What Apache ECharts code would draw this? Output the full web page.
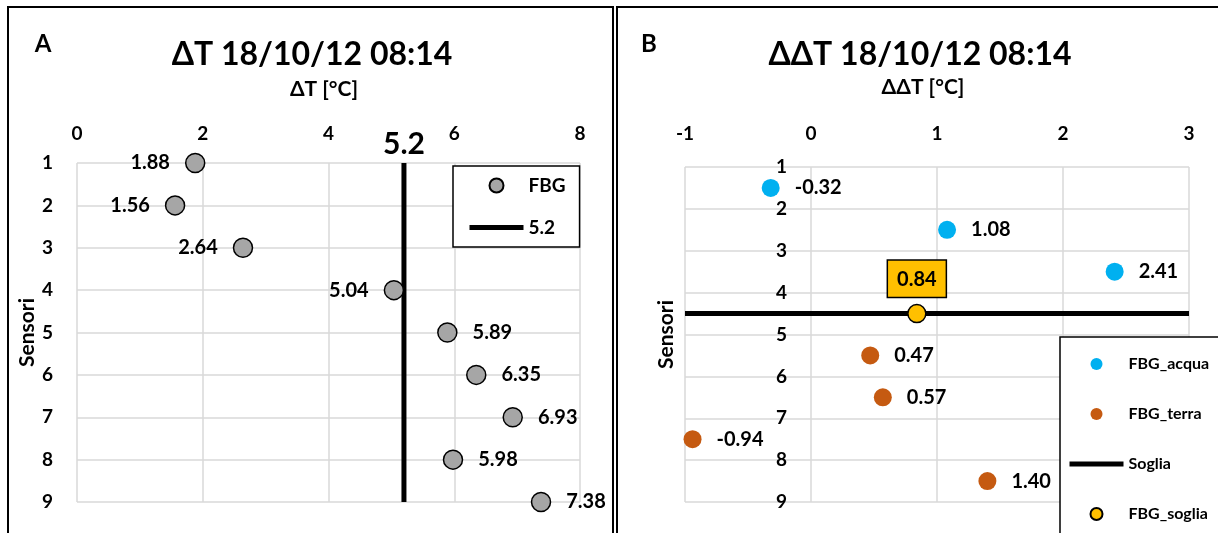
<!DOCTYPE html>
<html>
<head>
<meta charset="utf-8">
<title>ΔT / ΔΔT 18/10/12 08:14</title>
<script src="https://cdn.jsdelivr.net/npm/echarts@6/dist/echarts.min.js"></script>
<style>
  html, body { margin: 0; padding: 0; background: #fff; }
  #chart { width: 1218px; height: 533px; }
</style>
</head>
<body>
<div id="chart"></div>
<script>
// --- dati pannello A (ΔT) ---
var sensoriA = [1, 2, 3, 4, 5, 6, 7, 8, 9];
var deltaT = [1.88, 1.56, 2.64, 5.04, 5.89, 6.35, 6.93, 5.98, 7.38];
var sogliaA = 5.2;

// --- dati pannello B (ΔΔT) ---
var acquaY = [1.5, 2.5, 3.5];
var acquaX = [-0.32, 1.08, 2.41];
var terraY = [5.5, 6.5, 7.5, 8.5];
var terraX = [0.47, 0.57, -0.94, 1.40];
var sogliaBY = 4.5;
var sogliaBX = 0.84;

var FONT = 'Lato, "Open Sans", sans-serif';
var GRID_COLOR = '#d9d9d9';

var chart = echarts.init(document.getElementById('chart'));

var pointsA = sensoriA.map(function (s, i) {
    var v = deltaT[i];
    return {
        value: [v, s],
        label: { position: v < sogliaA ? 'left' : 'right' }
    };
});

function pairs(xs, ys) {
    return xs.map(function (x, i) { return [x, ys[i]]; });
}

function boldText(size) {
    return { color: '#000', fontFamily: FONT, fontWeight: 700, fontSize: size };
}

function valueLabel(extra) {
    return Object.assign({
        show: true,
        formatter: function (p) { return p.value[0].toFixed(2); },
        textBorderWidth: 0
    }, boldText(20), extra);
}

var option = {
    animation: false,
    textStyle: { fontFamily: FONT, fontWeight: 700, color: '#000' },
    graphic: [
        { type: 'rect', z: 0, shape: { x: 8, y: 7, width: 605, height: 600 }, style: { fill: 'none', stroke: '#000', lineWidth: 2 } },
        { type: 'rect', z: 0, shape: { x: 617, y: 7, width: 640, height: 600 }, style: { fill: 'none', stroke: '#000', lineWidth: 2 } },
        // cornice legenda B (esce dal bordo come nell'originale)
        { type: 'rect', z: 3, shape: { x: 1060, y: 337, width: 200, height: 230 }, style: { fill: '#fff', stroke: '#000', lineWidth: 1.5 } },
        { type: 'text', style: { text: 'A', x: 43, y: 44, textAlign: 'center', textVerticalAlign: 'middle', font: 'bold 24px ' + FONT, fill: '#000' } },
        { type: 'text', style: { text: 'ΔT 18/10/12 08:14', x: 312, y: 55, textAlign: 'center', textVerticalAlign: 'middle', font: 'bold 32px ' + FONT, fill: '#000' } },
        { type: 'text', style: { text: 'ΔT [°C]', x: 324, y: 89, textAlign: 'center', textVerticalAlign: 'middle', font: 'bold 21px ' + FONT, fill: '#000' } },
        { type: 'text', style: { text: 'B', x: 649, y: 44, textAlign: 'center', textVerticalAlign: 'middle', font: 'bold 24px ' + FONT, fill: '#000' } },
        { type: 'text', style: { text: 'ΔΔT 18/10/12 08:14', x: 920, y: 55, textAlign: 'center', textVerticalAlign: 'middle', font: 'bold 32px ' + FONT, fill: '#000' } },
        { type: 'text', style: { text: 'ΔΔT [°C]', x: 923, y: 87, textAlign: 'center', textVerticalAlign: 'middle', font: 'bold 21px ' + FONT, fill: '#000' } }
    ],
    legend: [
        {
            left: 453, top: 166,
            orient: 'vertical',
            padding: [10, 14, 10, 14],
            itemWidth: 54, itemHeight: 14, itemGap: 23,
            borderColor: '#000', borderWidth: 1.5,
            backgroundColor: '#fff',
            lineStyle: { width: 5 },
            textStyle: boldText(19),
            data: ['FBG', { name: '5.2', itemStyle: { opacity: 0 } }]
        },
        {
            left: 1060, top: 337,
            orient: 'vertical',
            padding: [19, 10, 2, 7],
            itemWidth: 54, itemHeight: 12, itemGap: 34,
            borderWidth: 0,
            lineStyle: { width: 5 },
            textStyle: boldText(16),
            data: ['FBG_acqua', 'FBG_terra', { name: 'Soglia', itemStyle: { opacity: 0 } }, 'FBG_soglia']
        }
    ],
    grid: [
        { left: 77, top: 163, width: 503, height: 339 },
        { left: 685, top: 167, width: 504, height: 335 }
    ],
    xAxis: [
        {
            gridIndex: 0, type: 'value', position: 'top',
            min: 0, max: 8, interval: 2,
            axisLine: { show: false }, axisTick: { show: false },
            axisLabel: Object.assign(boldText(19), { margin: 20 }),
            splitLine: { show: true, lineStyle: { color: GRID_COLOR, width: 1.5 } }
        },
        {
            gridIndex: 1, type: 'value', position: 'top',
            min: -1, max: 3, interval: 1,
            axisLine: { show: false }, axisTick: { show: false },
            axisLabel: Object.assign(boldText(19), { margin: 24 }),
            splitLine: { show: true, lineStyle: { color: GRID_COLOR, width: 1.5 } }
        }
    ],
    yAxis: [
        {
            gridIndex: 0, type: 'value', inverse: true,
            min: 1, max: 9, interval: 1,
            name: 'Sensori', nameLocation: 'middle', nameGap: 36,
            nameTextStyle: boldText(21),
            axisLine: { show: false, onZero: false }, axisTick: { show: false },
            axisLabel: Object.assign(boldText(19), { margin: 24 }),
            splitLine: { show: true, lineStyle: { color: GRID_COLOR, width: 1.5 } }
        },
        {
            // l'asse verticale B incrocia x = 0
            gridIndex: 1, type: 'value', inverse: true,
            min: 1, max: 9, interval: 1,
            offset: -126,
            name: 'Sensori', nameLocation: 'middle', nameGap: 134,
            nameTextStyle: boldText(21),
            axisLine: { show: false, onZero: false }, axisTick: { show: false },
            axisLabel: Object.assign(boldText(19), { margin: 24 }),
            splitLine: { show: true, lineStyle: { color: GRID_COLOR, width: 1.5 } }
        }
    ],
    series: [
        {
            name: '5.2', type: 'line',
            xAxisIndex: 0, yAxisIndex: 0,
            symbol: 'circle', symbolSize: 0.1, showSymbol: true,
            itemStyle: { color: 'rgba(0,0,0,0)' },
            lineStyle: { color: '#000', width: 5 },
            label: { show: false },
            data: [
                {
                    value: [sogliaA, 1],
                    label: Object.assign({
                        show: true, position: 'top', distance: 4,
                        formatter: String(sogliaA)
                    }, boldText(30))
                },
                [sogliaA, 9]
            ],
            z: 3
        },
        {
            name: 'FBG', type: 'scatter',
            xAxisIndex: 0, yAxisIndex: 0,
            symbolSize: 19,
            itemStyle: { color: '#a6a6a6', borderColor: '#000', borderWidth: 1.5, opacity: 1 },
            label: valueLabel({ distance: 15 }),
            data: pointsA,
            z: 4
        },
        {
            name: 'FBG_acqua', type: 'scatter',
            xAxisIndex: 1, yAxisIndex: 1,
            symbolSize: 18,
            itemStyle: { color: '#00b0f0', opacity: 1 },
            label: valueLabel({ position: 'right', distance: 15 }),
            data: pairs(acquaX, acquaY)
        },
        {
            name: 'FBG_terra', type: 'scatter',
            xAxisIndex: 1, yAxisIndex: 1,
            symbolSize: 18,
            itemStyle: { color: '#c55a11', opacity: 1 },
            label: valueLabel({ position: 'right', distance: 15 }),
            data: pairs(terraX, terraY)
        },
        {
            name: 'Soglia', type: 'line',
            xAxisIndex: 1, yAxisIndex: 1,
            symbol: 'none',
            itemStyle: { color: '#000' },
            lineStyle: { color: '#000', width: 5 },
            data: [[-1, sogliaBY], [3, sogliaBY]],
            z: 3
        },
        {
            name: 'FBG_soglia', type: 'scatter',
            xAxisIndex: 1, yAxisIndex: 1,
            symbolSize: 18,
            itemStyle: { color: '#ffc000', borderColor: '#000', borderWidth: 1.5, opacity: 1 },
            label: valueLabel({
                position: 'top', distance: 7,
                backgroundColor: '#ffc000', borderColor: '#000', borderWidth: 1.5,
                padding: [9, 9, 7, 9]
            }),
            data: [[sogliaBX, sogliaBY]],
            z: 4
        }
    ]
};

chart.setOption(option);
</script>
</body>
</html>
